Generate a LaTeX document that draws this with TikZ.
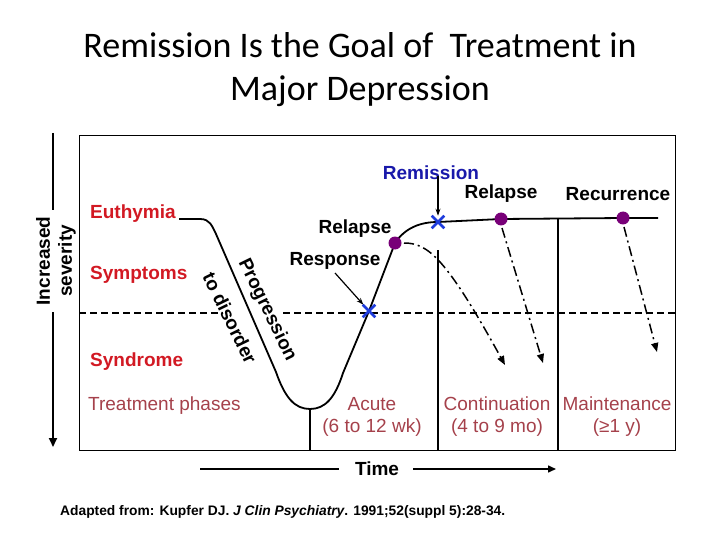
\documentclass[tikz,border=0pt]{standalone}
\usepackage{fontspec}
\setmainfont{Liberation Sans}
\newfontfamily\titlefont{Carlito}
\usetikzlibrary{arrows.meta,shapes.misc}

\definecolor{symred}{RGB}{210,25,35}
\definecolor{phasered}{RGB}{165,65,75}
\definecolor{remblue}{RGB}{25,25,170}
\definecolor{xblue}{RGB}{30,60,220}
\definecolor{dotpurple}{RGB}{120,0,120}

\tikzset{
  lbl/.style={font=\fontsize{19}{22}\selectfont\bfseries, inner sep=0pt},
  statelbl/.style={lbl, text=symred, anchor=west},
  phaselbl/.style={font=\fontsize{19}{22}\selectfont, text=phasered, align=center, inner sep=0pt},
  course/.style={line width=1.8pt},
  divider/.style={line width=1.3pt},
  relapsepath/.style={line width=1.5pt, dash pattern=on 10pt off 4pt on 2pt off 4pt,
    -{Triangle[length=9pt,width=7pt]}},
  dot/.style={circle, fill=dotpurple, inner sep=0pt, minimum size=13pt},
  xmark/.style={cross out, draw=xblue, line width=2.6pt, inner sep=0pt, minimum size=10pt}
}

\begin{document}
\begin{tikzpicture}[x=1pt,y=-1pt]
\useasboundingbox (0,0) rectangle (720,540);
%\draw[step=20,gray,very thin] (0,0) grid (720,540);

% title
\node[font=\titlefont\fontsize{36}{43}\selectfont, align=center] (title) at (360,70)
  {Remission Is the Goal of\ \ Treatment in\\Major Depression};

% frame and severity axis
\draw[line width=1pt] (79,136) rectangle (675,450);
\node[lbl, rotate=90, align=center] (sev) at (56,261) {Increased\\severity};
\draw[line width=2pt] (53,133) -- (53,210);
\draw[line width=2pt, -{Triangle[length=9pt,width=8pt]}] (53,312) -- (53,447);

% threshold
\draw[line width=1.5pt, dash pattern=on 7pt off 4pt] (79,313) -- (223,313);
\draw[line width=1.5pt, dash pattern=on 7pt off 4pt] (283,313) -- (675,313);

% key points
\coordinate (euth) at (179,219);
\coordinate (low) at (310,409);
\coordinate (resp) at (369,311);
\coordinate (rel1) at (395,243);
\coordinate (rem) at (438,222);
\coordinate (rel2) at (501,219);
\coordinate (rec) at (623,218);
\coordinate (lineend) at (658,218);

% phase dividers
\draw[divider] (low) -- (310,450);
\draw[divider] (438,250) -- (438,450);
\draw[divider] (558,218) -- (558,450);

% course of illness
\draw[course] (euth) -- (200,219) .. controls (210,219) and (212,226) .. (216,234)
  -- (276,372) .. controls (285,398) and (295,409) .. (low)
  .. controls (325,409) and (335,398) .. (343,373) -- (resp) -- (rel1)
  .. controls (405,228) and (420,222) .. (rem) -- (rel2) -- (rec) -- (lineend);

% relapse / recurrence paths
\draw[relapsepath] (404,243) .. controls (428,243) and (446,258) .. (505,365);
\draw[relapsepath] (502,228) -- (543,363);
\draw[relapsepath] (624,227) -- (657,352);

\node[dot] (d1) at (rel1) {};
\node[dot] (d2) at (rel2) {};
\node[dot] (d3) at (rec) {};
\node[xmark] (x1) at (resp) {};
\node[xmark] (x2) at (rem) {};

% state labels
\node[statelbl] (euthy) at (90,214) {Euthymia};
\node[statelbl] (sympt) at (90,275) {Symptoms};
\node[statelbl] (syndr) at (90,362) {Syndrome};
\node[lbl, rotate=-64] (prog) at (267,310) {Progression};
\node[lbl, rotate=-64] (todis) at (230,318) {to disorder};

% event labels
\node[lbl] (relapse1) at (355,229) {Relapse};
\node[lbl] (response) at (335,261) {Response};
\draw[line width=1.2pt, -{Stealth[length=7pt,width=5pt]}] (335,273) -- (x1);
\node[lbl, text=remblue] (remiss) at (431,173) {Remission};
\draw[line width=1.3pt, -{Stealth[length=7pt,width=5pt]}] (438,176) -- (x2);
\node[lbl] (relapse2) at (501,194) {Relapse};
\node[lbl] (recur) at (618,194) {Recurrence};

% treatment phases
\node[phaselbl, anchor=west] (phases) at (88,406) {Treatment phases};
\node[phaselbl] (acute) at (372,417) {Acute\\(6 to 12 wk)};
\node[phaselbl] (contin) at (497,417) {Continuation\\(4 to 9 mo)};
\node[phaselbl] (maint) at (617,417) {Maintenance\\(≥1 y)};

% time axis
\node[lbl] (time) at (377,469) {Time};
\draw[line width=1.5pt] (200,469) -- ([xshift=-16pt]time.west);
\draw[line width=1.5pt, -{Triangle[length=8pt,width=7pt]}] ([xshift=14pt]time.east) -- (556,469);

% source
\node[font=\fontsize{13.8}{16}\selectfont\bfseries, anchor=west, inner sep=0pt] (src) at (60,512)
  {Adapted from: Kupfer DJ. \textit{J Clin Psychiatry}. 1991;52(suppl 5):28-34.};
\end{tikzpicture}
\end{document}
